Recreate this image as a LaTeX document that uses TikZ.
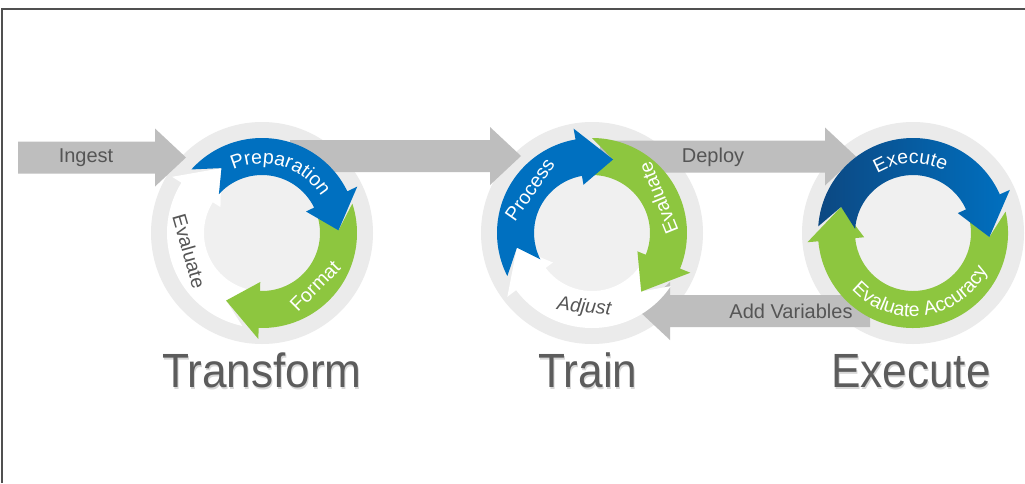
\documentclass[tikz,border=0pt]{standalone}
\usepackage{fontspec}
\setmainfont{Liberation Sans}
\usetikzlibrary{calc,decorations.text}
\definecolor{cblue}{RGB}{0,112,192}
\definecolor{cdblue}{RGB}{12,72,130}
\definecolor{cgreen}{RGB}{141,198,63}
\definecolor{cdisc}{RGB}{235,235,235}
\definecolor{cin}{RGB}{240,240,240}
\definecolor{carr}{RGB}{190,190,190}
\definecolor{ctxt}{RGB}{85,85,85}
\definecolor{ctitle}{RGB}{92,92,92}
\definecolor{cshadow}{RGB}{215,215,215}
\definecolor{cframe}{RGB}{80,80,80}
% cyclic arrow segment: #1 tail angle, #2 head base angle, #3 tip angle, #4 fill options
\newcommand\cycarrow[4]{%
  \path[#4] ({#1+16}:95) arc[start angle={#1+16}, end angle={#2}, radius=95pt]
    -- (#2:106) -- (#3:76.5) -- (#2:49) -- (#2:58)
    arc[start angle={#2}, end angle={#1+16}, radius=58pt] -- (#1:76.5) -- cycle;}
% text along an arc: #1 start, #2 end, #3 radius, #4 format, #5 text
\newcommand\arctext[5]{%
  \path[decorate, decoration={text along path, text align=center,
    text={|#4|#5}}] (#1:#3) arc[start angle={#1}, end angle={#2}, radius=#3pt];}
\newcommand\wfmt{\fontsize{19.5}{22}\selectfont\color{white}}
\begin{document}
\begin{tikzpicture}[x=1pt,y=1pt,
  disc/.style={fill=cdisc},
  inner/.style={fill=cin},
  lbl/.style={text=ctxt, font=\fontsize{20}{22}\selectfont, inner sep=0pt},
  wtxt/.style={text=white, font=\fontsize{19.5}{22}\selectfont, inner sep=0pt},
  dtxt/.style={text=ctxt, font=\fontsize{19.5}{22}\selectfont, inner sep=0pt},
  title/.style={text=ctitle, font=\fontsize{48}{50}\selectfont, inner sep=0pt, anchor=base},
  tshadow/.style={text=cshadow, font=\fontsize{48}{50}\selectfont, inner sep=0pt, anchor=base},
  grayarr/.style={fill=carr}]
\useasboundingbox (0,0) rectangle (1025,-483);
\fill[white] (0,0) rectangle (1025,-483);
\draw[cframe, line width=2pt] (2,-483) -- (2,-9) -- (1025,-9);

\coordinate (c1) at (262,-233);
\coordinate (c2) at (592,-233);
\coordinate (c3) at (913,-233);

% discs
\foreach \c in {c1,c2,c3}{
  \fill[disc] (\c) circle[radius=111pt];
  \fill[inner] (\c) circle[radius=58pt];
}

% gray block arrows
\newcommand\garrow[3]{% from, to, direction (1 right, -1 left)
  \fill[grayarr] ($(#1)+(0,16)$) -- ($(#2)+({-31*#3},16)$) -- ($(#2)+({-31*#3},29)$)
    -- (#2) -- ($(#2)+({-31*#3},-29)$) -- ($(#2)+({-31*#3},-16)$) -- ($(#1)+(0,-16)$) -- cycle;}
\coordinate (ingA) at (18,-157.5);   \coordinate (ingB) at (186,-157.5);
\coordinate (ttA) at (290,-156);     \coordinate (ttB) at (521,-156);
\coordinate (depA) at (600,-156.5);  \coordinate (depB) at (856,-156.5);
\coordinate (addA) at (870,-311);    \coordinate (addB) at (639,-311);
\garrow{ingA}{ingB}{1}
\garrow{ttA}{ttB}{1}
\garrow{depA}{depB}{1}
\garrow{addA}{addB}{-1}
\node[lbl] (ingest) at (86,-158) {Ingest};
\node[lbl] (deploy) at (713,-157) {Deploy};
\node[lbl] (addvar) at (791,-311) {Add Variables};

% circle 1: Transform
\begin{scope}[shift={(c1)}]
  \cycarrow{242}{148}{122}{fill=white}
  \cycarrow{2}{-92}{-118}{fill=cgreen}
  \cycarrow{122}{26}{2}{fill=cblue}
  \arctext{145}{1}{69.5}{\wfmt}{Preparation}
  \node[wtxt, rotate=45] (format) at (-45:75) {Format};
  \node[dtxt, rotate=-74] (eval1) at (194:75) {Evaluate};
\end{scope}

% circle 2: Train
\begin{scope}[shift={(c2)}]
  \cycarrow{310}{217}{191}{fill=white}
  \cycarrow{74}{-22}{-50}{fill=cgreen}
  \cycarrow{191}{100}{74}{fill=cblue}
  \node[wtxt, rotate=55] (process) at (145:76) {Process};
  \node[wtxt, rotate=112] (eval2) at (28:75) {Evaluate};
  \node[dtxt, font=\fontsize{19.5}{22}\selectfont\itshape, rotate=-6] (adjust) at (264:75) {Adjust};
\end{scope}

% circle 3: Execute
\begin{scope}[shift={(c3)}]
  \cycarrow{357}{185}{160}{fill=cgreen}
  \cycarrow{160}{24}{-3}{left color=cdblue, middle color=cblue, right color=cblue}
  \arctext{160}{24}{69.5}{\wfmt}{Execute}
  \arctext{190}{366}{83.5}{\wfmt}{Evaluate Accuracy}
\end{scope}

% titles
\node[tshadow] at (263,-389) {\scalebox{0.92}[1]{Transform}};
\node[tshadow] at (589,-389) {\scalebox{0.92}[1]{Train}};
\node[tshadow] at (912,-389) {\scalebox{0.92}[1]{Execute}};
\node[title] (t1) at (262,-387) {\scalebox{0.92}[1]{Transform}};
\node[title] (t2) at (588,-387) {\scalebox{0.92}[1]{Train}};
\node[title] (t3) at (911,-387) {\scalebox{0.92}[1]{Execute}};
\end{tikzpicture}
\end{document}
